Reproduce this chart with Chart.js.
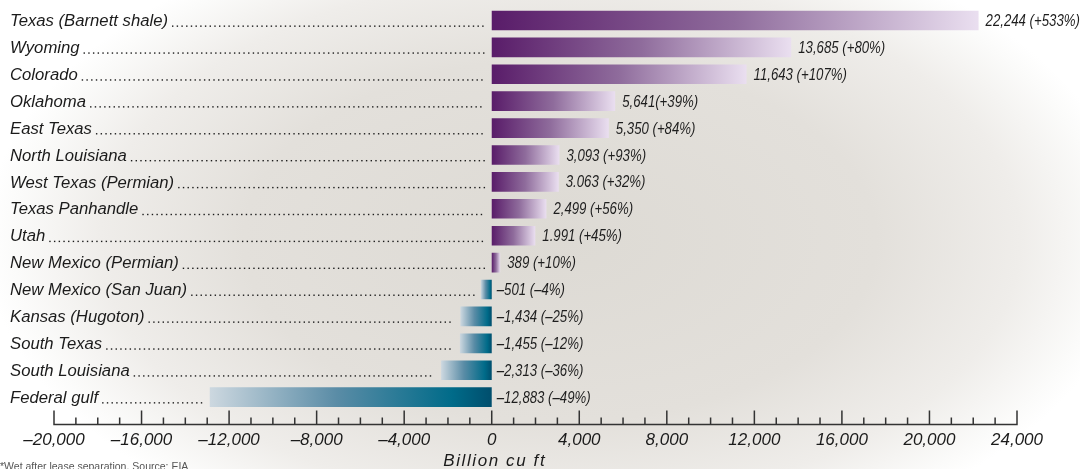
<!DOCTYPE html>
<html>
<head>
<meta charset="utf-8">
<script src="https://cdn.jsdelivr.net/npm/chart.js@4/dist/chart.umd.min.js"></script>
<style>
  html, body { margin: 0; padding: 0; background: #fff; }
  #c { display: block; }
</style>
</head>
<body>
<canvas id="c" width="1080" height="469"></canvas>
<script>
const categories = [
  'Texas (Barnett shale)', 'Wyoming', 'Colorado', 'Oklahoma', 'East Texas',
  'North Louisiana', 'West Texas (Permian)', 'Texas Panhandle', 'Utah',
  'New Mexico (Permian)', 'New Mexico (San Juan)', 'Kansas (Hugoton)',
  'South Texas', 'South Louisiana', 'Federal gulf'
];
const values = [22244, 13685, 11643, 5641, 5350, 3093, 3063, 2499, 1991, 389,
  -501, -1434, -1455, -2313, -12883];
const valueLabels = [
  '22,244 (+533%)', '13,685 (+80%)', '11,643 (+107%)', '5,641(+39%)', '5,350 (+84%)',
  '3,093 (+93%)', '3.063 (+32%)', '2,499 (+56%)', '1.991 (+45%)', '389 (+10%)',
  '\u2013501 (\u20134%)', '\u20131,434 (\u201325%)', '\u20131,455 (\u201312%)',
  '\u20132,313 (\u201336%)', '\u201312,883 (\u201349%)'
];
const xMin = -20000, xMax = 24000, majorStep = 4000, minorStep = 1000;
const axisTitle = 'Billion cu ft';
const footnote = '*Wet after lease separation. Source: EIA';

const LABEL_FONT = "italic 16.7px 'Liberation Sans', Arial, sans-serif";
const VALUE_FONT = "italic 16.5px 'Liberation Sans', Arial, sans-serif";
const VALUE_SQUEEZE = 0.8;

function fmtTick(v) {
  const s = Math.abs(v).toLocaleString('en-US');
  return v < 0 ? '\u2013' + s : s;
}

function barFill(ctx) {
  const chart = ctx.chart;
  const xs = chart.scales.x;
  if (!chart.chartArea || !xs) return '#6a3a7a';
  const v = ctx.raw;
  const x0 = xs.getPixelForValue(0);
  const x1 = xs.getPixelForValue(v);
  if (Math.abs(x1 - x0) < 0.5) return v >= 0 ? '#5a1e6a' : '#005070';
  const g = chart.ctx.createLinearGradient(x0, 0, x1, 0);
  if (v >= 0) {
    g.addColorStop(0, '#591c69');
    g.addColorStop(0.5, '#8f6c9c');
    g.addColorStop(1, '#eadff0');
  } else {
    g.addColorStop(0, '#004e6d');
    g.addColorStop(0.14, '#006b89');
    g.addColorStop(0.55, '#5a8ca6');
    g.addColorStop(1, '#cdd8e0');
  }
  return g;
}

const bgPlugin = {
  id: 'bg',
  beforeDraw(chart) {
    const c = chart.ctx;
    const W = chart.width, H = chart.height;
    c.save();
    c.fillStyle = '#ffffff';
    c.fillRect(0, 0, W, H);
    const cx = 560, cy = 240, rx = 575, ry = 330;
    c.translate(cx, cy);
    c.scale(1, ry / rx);
    const g = c.createRadialGradient(0, 0, 0, 0, 0, rx);
    g.addColorStop(0, '#dddad4');
    g.addColorStop(0.55, '#e3e0db');
    g.addColorStop(0.8, '#efedea');
    g.addColorStop(0.95, '#fbfbfa');
    g.addColorStop(1, '#ffffff');
    c.fillStyle = g;
    c.fillRect(-cx, -cy * rx / ry, W, H * rx / ry);
    c.restore();
  }
};

const decoPlugin = {
  id: 'deco',
  afterDatasetsDraw(chart) {
    const c = chart.ctx;
    const xs = chart.scales.x, ys = chart.scales.y;
    const area = chart.chartArea;
    const x0 = xs.getPixelForValue(0);
    c.save();
    categories.forEach((name, i) => {
      const yc = ys.getPixelForValue(i);
      c.font = LABEL_FONT;
      c.fillStyle = '#1b1b1b';
      c.textAlign = 'left';
      c.textBaseline = 'middle';
      c.fillText(name, 10, yc + 1);
      const tw = c.measureText(name).width;
      const barStart = Math.min(x0, xs.getPixelForValue(values[i]));
      const endX = barStart - 7;
      for (let dx = 10 + tw + 4; dx <= endX; dx += 4.7) {
        c.fillRect(dx, yc + 5, 1.4, 1.4);
      }
      c.font = VALUE_FONT;
      c.fillStyle = '#1e1e1e';
      const vx = values[i] >= 0 ? xs.getPixelForValue(values[i]) + 7 : x0 + 5;
      c.save();
      c.translate(vx, yc + 1);
      c.scale(VALUE_SQUEEZE, 1);
      c.fillText(valueLabels[i], 0, 0);
      c.restore();
    });
    const axisY = area.bottom + 14;
    c.strokeStyle = '#333';
    c.lineWidth = 1.5;
    c.beginPath();
    c.moveTo(xs.getPixelForValue(xMin), axisY);
    c.lineTo(xs.getPixelForValue(xMax), axisY);
    for (let v = xMin; v <= xMax; v += minorStep) {
      const px = xs.getPixelForValue(v);
      const len = (v % majorStep === 0) ? 14 : 7;
      c.moveTo(px, axisY + 0.75);
      c.lineTo(px, axisY - len);
    }
    c.stroke();
    c.font = "italic 17px 'Liberation Sans', Arial, sans-serif";
    c.fillStyle = '#1b1b1b';
    c.textAlign = 'center';
    c.textBaseline = 'middle';
    try { c.letterSpacing = '1.6px'; } catch (e) {}
    c.fillText(axisTitle, x0 + 3, 461);
    try { c.letterSpacing = '0px'; } catch (e) {}
    c.font = "10.5px 'Liberation Sans', Arial, sans-serif";
    c.fillStyle = '#555';
    c.textAlign = 'left';
    c.textBaseline = 'top';
    c.fillText(footnote, 0, 462);
    c.restore();
  }
};

new Chart(document.getElementById('c'), {
  type: 'bar',
  data: {
    labels: categories,
    datasets: [{
      data: values,
      backgroundColor: barFill,
      borderWidth: 0,
      barPercentage: 0.73,
      categoryPercentage: 1.0
    }]
  },
  options: {
    indexAxis: 'y',
    responsive: false,
    animation: false,
    events: [],
    layout: { padding: { left: 54, right: 63, top: 7, bottom: 0 } },
    plugins: { legend: { display: false }, tooltip: { enabled: false } },
    scales: {
      y: { display: false },
      x: {
        type: 'linear',
        min: xMin,
        max: xMax,
        grid: { display: false, drawTicks: false },
        border: { display: false },
        ticks: {
          stepSize: majorStep,
          padding: 19,
          color: '#1b1b1b',
          font: { family: "'Liberation Sans', Arial, sans-serif", size: 17, style: 'italic' },
          callback: (v) => fmtTick(v),
          maxRotation: 0,
          autoSkip: false
        }
      }
    }
  },
  plugins: [bgPlugin, decoPlugin]
});
</script>
</body>
</html>
